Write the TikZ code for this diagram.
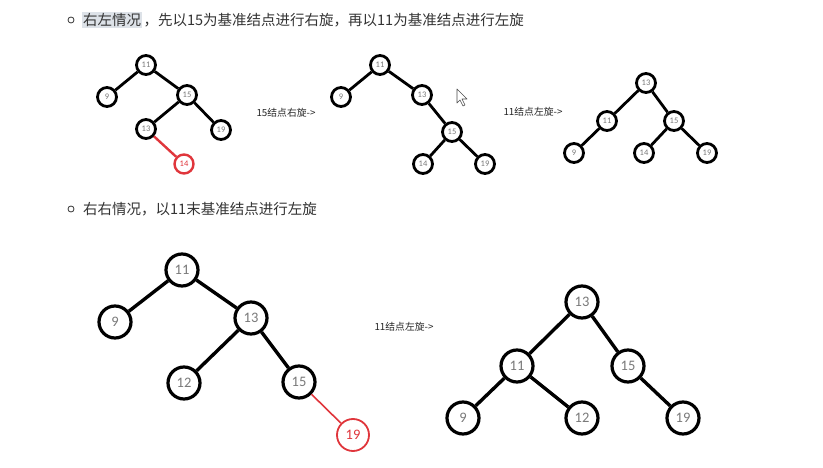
\documentclass[tikz,border=0pt]{standalone}
\usepackage{fontspec}
\setmainfont{Noto Sans CJK SC}
\newfontfamily\numfont{Carlito}
\definecolor{txt}{HTML}{333333}
\definecolor{numc}{HTML}{7A7A7A}
\definecolor{redc}{HTML}{E0363C}
\definecolor{hl}{HTML}{DDE2E8}
\begin{document}
\begin{tikzpicture}[x=1pt,y=-1pt,
  sn/.style={circle,draw=black,line width=2.8pt,fill=white,minimum size=19pt,inner sep=0pt,font=\numfont\fontsize{8.5}{9}\selectfont,text=numc},
  snr/.style={sn,draw=redc,line width=2.4pt,text=redc},
  bn/.style={circle,draw=black,line width=3.2pt,fill=white,minimum size=32pt,inner sep=0pt,font=\numfont\fontsize{14.5}{16}\selectfont,text=numc},
  bnr/.style={bn,draw=redc,line width=1.8pt,text=redc},
  ed/.style={line width=2.8pt,draw=black},
  edr/.style={line width=2.4pt,draw=redc},
  bed/.style={line width=3.4pt,draw=black},
  bedr/.style={line width=1.6pt,draw=redc},
  bul/.style={circle,draw=txt,line width=0.8pt,minimum size=6pt,inner sep=0pt},
  head/.style={anchor=west,inner sep=1pt,text=txt,font=\fontsize{14.5}{16}\selectfont},
  lab/.style={text=black!85,font=\fontsize{9.8}{11}\selectfont,inner sep=0pt}
]
\useasboundingbox (0,0) rectangle (823,468);
\fill[white] (0,0) rectangle (823,468);

% headings
\node[bul] (b1) at (71,20) {};
\node[head,fill=hl] (h1) at (82,20) {右左情况};
\node[head,anchor=west] (h1b) at (h1.east) {，先以15为基准结点进行右旋，再以11为基准结点进行左旋};
\node[bul] (b2) at (71,209) {};
\node[head] (h2) at (82,209) {右右情况，以11末基准结点进行左旋};

% tree 1
\node[sn] (a11) at (146,65) {11};
\node[sn] (a9) at (107,97) {9};
\node[sn] (a15) at (187,95) {15};
\node[sn] (a13) at (146,129) {13};
\node[sn] (a19) at (221,130) {19};
\node[snr] (a14) at (184,164) {14};
\draw[ed] (a11) -- (a9);
\draw[ed] (a11) -- (a15);
\draw[ed] (a15) -- (a13);
\draw[ed] (a15) -- (a19);
\draw[edr] (a13) -- (a14);
\node[lab] (l1) at (286,113) {15结点右旋->};

% tree 2
\node[sn] (c11) at (380,65) {11};
\node[sn] (c9) at (341,97) {9};
\node[sn] (c13) at (422,95) {13};
\node[sn] (c15) at (452,132) {15};
\node[sn] (c14) at (423,164) {14};
\node[sn] (c19) at (485,164) {19};
\draw[ed] (c11) -- (c9);
\draw[ed] (c11) -- (c13);
\draw[ed] (c13) -- (c15);
\draw[ed] (c15) -- (c14);
\draw[ed] (c15) -- (c19);
% mouse cursor
\draw[fill=white,draw=black!70,line width=0.6pt,line join=round]
  (457,89) -- (457,103) -- (460,100) -- (463,106) -- (465,105) -- (462,99) -- (467,99) -- cycle;
\node[lab] (l2) at (533,112) {11结点左旋->};

% tree 3
\node[sn] (d13) at (646,83) {13};
\node[sn] (d11) at (607,121) {11};
\node[sn] (d15) at (674,121) {15};
\node[sn] (d9) at (574,153) {9};
\node[sn] (d14) at (644,153) {14};
\node[sn] (d19) at (707,153) {19};
\draw[ed] (d13) -- (d11);
\draw[ed] (d13) -- (d15);
\draw[ed] (d11) -- (d9);
\draw[ed] (d15) -- (d14);
\draw[ed] (d15) -- (d19);

% tree 4
\node[bn] (e11) at (182,270) {11};
\node[bn] (e9) at (115,322) {9};
\node[bn] (e13) at (251,318) {13};
\node[bn] (e12) at (184,383) {12};
\node[bn] (e15) at (299,382) {15};
\node[bnr] (e19) at (353,435) {19};
\draw[bed] (e11) -- (e9);
\draw[bed] (e11) -- (e13);
\draw[bed] (e13) -- (e12);
\draw[bed] (e13) -- (e15);
\draw[bedr] (e15) -- (e19);
\node[lab] (l3) at (404,327) {11结点左旋->};

% tree 5
\node[bn] (f13) at (582,302) {13};
\node[bn] (f11) at (517,366) {11};
\node[bn] (f15) at (628,366) {15};
\node[bn] (f9) at (463,418) {9};
\node[bn] (f12) at (582,418) {12};
\node[bn] (f19) at (683,418) {19};
\draw[bed] (f13) -- (f11);
\draw[bed] (f13) -- (f15);
\draw[bed] (f11) -- (f9);
\draw[bed] (f11) -- (f12);
\draw[bed] (f15) -- (f19);
\end{tikzpicture}
\end{document}
